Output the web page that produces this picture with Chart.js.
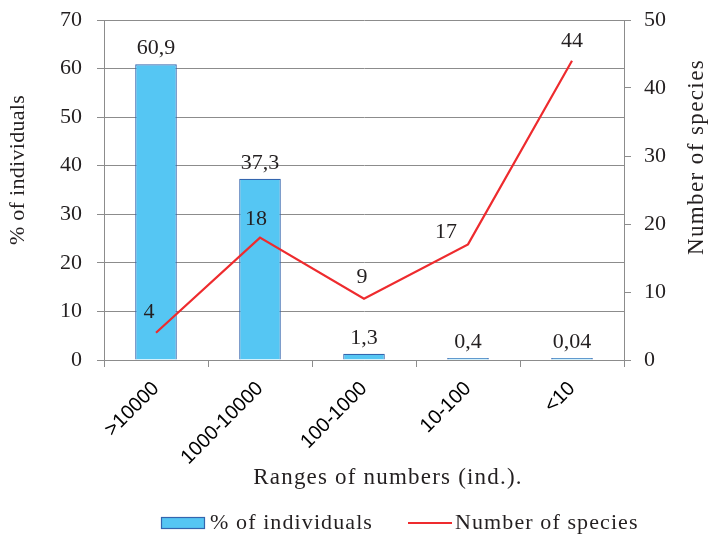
<!DOCTYPE html>
<html>
<head>
<meta charset="utf-8">
<script src="https://cdn.jsdelivr.net/npm/chart.js@4/dist/chart.umd.min.js"></script>
<style>
  html, body { margin: 0; padding: 0; background: #fff; }
  #wrap { width: 711px; height: 536px; }
</style>
</head>
<body>
<div id="wrap"><canvas id="c"></canvas></div>
<script>
// Abundance classes and their values
const categories = ['>10000', '1000-10000', '100-1000', '10-100', '<10'];
const pctIndividuals = [60.9, 37.3, 1.3, 0.4, 0.04];
const speciesCount = [4, 18, 9, 17, 44];
const seriesNames = ['% of individuals', 'Number of species'];

const SERIF = '"Liberation Serif", "DejaVu Serif", serif';
const SANS = '"Liberation Sans", Arial, sans-serif';
const TEXT = '#231f20';
const GRID = '#8c8c8c';
const BAR_FILL = '#55c6f3';
const BAR_EDGE = '#3465ae';
const LINE = '#ee2b2e';

// decimal comma, as printed on the labels
const fmt = v => String(v).replace('.', ',');

function text(ctx, str, x, y, size, spacing, align, baseline, angle) {
  ctx.save();
  ctx.font = size + 'px ' + SERIF;
  ctx.letterSpacing = spacing + 'px';
  ctx.fillStyle = TEXT;
  ctx.textAlign = align;
  ctx.textBaseline = baseline;
  ctx.translate(x, y);
  if (angle) ctx.rotate(angle);
  ctx.fillText(str, 0, 0);
  ctx.letterSpacing = '0px';
  ctx.restore();
  ctx.letterSpacing = '0px';
}

// value labels above the bars and the line vertices
const valueLabels = {
  id: 'valueLabels',
  afterDatasetsDraw(chart) {
    const ctx = chart.ctx;
    chart.getDatasetMeta(0).data.forEach((bar, i) => {
      text(ctx, fmt(pctIndividuals[i]), bar.x, bar.y - 10, 22, 0, 'center', 'alphabetic');
    });
    const shift = [[-7, -15], [-4, -13], [-2, -16], [-22, -6], [0, -14]];
    chart.getDatasetMeta(1).data.forEach((pt, i) => {
      text(ctx, fmt(speciesCount[i]), pt.x + shift[i][0], pt.y + shift[i][1], 22, 0, 'center', 'alphabetic');
    });
  }
};

// axis titles and the legend row
const frame = {
  id: 'frame',
  beforeDraw(chart) { chart.ctx.letterSpacing = '0px'; },
  afterDraw(chart) {
    const ctx = chart.ctx;
    text(ctx, '% of individuals', 18, 170, 22, 0.3, 'center', 'middle', -Math.PI / 2);
    text(ctx, 'Number of species', 697, 157, 23, 1.4, 'center', 'middle', -Math.PI / 2);
    text(ctx, 'Ranges of numbers (ind.).', 388, 478, 23, 1.2, 'center', 'middle');

    // legend: bar swatch
    ctx.save();
    ctx.fillStyle = BAR_FILL;
    ctx.strokeStyle = BAR_EDGE;
    ctx.lineWidth = 1.2;
    ctx.fillRect(161, 517, 44, 12);
    ctx.strokeRect(161.5, 517.5, 43, 11);
    // legend: line sample
    ctx.strokeStyle = LINE;
    ctx.lineWidth = 2.2;
    ctx.beginPath();
    ctx.moveTo(408, 523);
    ctx.lineTo(452, 523);
    ctx.stroke();
    ctx.restore();
    text(ctx, seriesNames[0], 210, 523, 22, 1.1, 'left', 'middle');
    text(ctx, seriesNames[1], 455, 523, 22, 1.1, 'left', 'middle');
  }
};

// value axes: fixed width, no extra overflow padding above/below the plot
function fitValueAxis(width) {
  return scale => {
    scale.width = width;
    scale.paddingTop = 0;
    scale.paddingBottom = 0;
  };
}

new Chart(document.getElementById('c'), {
  data: {
    labels: categories,
    datasets: [
      {
        type: 'bar',
        label: seriesNames[0],
        data: pctIndividuals,
        yAxisID: 'y',
        backgroundColor: BAR_FILL,
        borderColor: BAR_EDGE,
        borderWidth: 1.2,
        minBarLength: 2,
        categoryPercentage: 1,
        barPercentage: 0.4,
        order: 2
      },
      {
        type: 'line',
        label: seriesNames[1],
        data: speciesCount,
        yAxisID: 'y1',
        borderColor: LINE,
        backgroundColor: LINE,
        borderWidth: 2.2,
        pointRadius: 0,
        tension: 0,
        order: 1
      }
    ]
  },
  options: {
    responsive: true,
    maintainAspectRatio: false,
    animation: false,
    layout: { padding: { top: 20, left: 0, right: 0, bottom: 0 } },
    plugins: {
      tooltip: { enabled: false },
      legend: { display: false }
    },
    scales: {
      x: {
        grid: { display: true, drawOnChartArea: false, offset: true, color: GRID, tickLength: 7 },
        border: { color: GRID },
        ticks: {
          minRotation: 45, maxRotation: 45,
          color: '#000',
          font: { family: SANS, size: 20 },
          padding: 10
        },
        afterFit(scale) {
          scale.height = 176;
          scale.paddingLeft = 0;
          scale.paddingRight = 0;
        }
      },
      y: {
        position: 'left',
        min: 0, max: 70,
        ticks: { stepSize: 10, color: TEXT, font: { family: SERIF, size: 22 }, padding: 15 },
        grid: { color: GRID, tickLength: 7 },
        border: { color: GRID },
        afterFit: fitValueAxis(104)
      },
      y1: {
        position: 'right',
        min: 0, max: 50,
        ticks: { stepSize: 10, color: TEXT, font: { family: SERIF, size: 22 }, padding: 13 },
        grid: { drawOnChartArea: false, color: GRID, tickLength: 7 },
        border: { color: GRID },
        afterFit: fitValueAxis(87)
      }
    }
  },
  plugins: [valueLabels, frame]
});
</script>
</body>
</html>
